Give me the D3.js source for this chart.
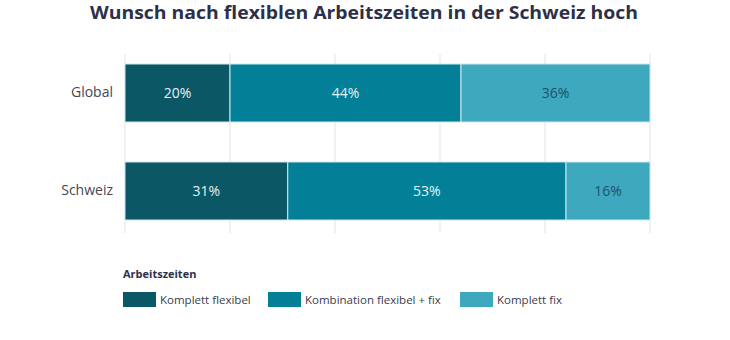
<!DOCTYPE html>
<html>
<head>
<meta charset="utf-8">
<script src="https://cdn.jsdelivr.net/npm/d3@7"></script>
<style>
  body { margin: 0; background: #fff; }
  text { font-family: "Open Sans", "Noto Sans", sans-serif; }
</style>
</head>
<body>
<div id="chart"></div>
<script>
// categories, series and ticks
const regions = ["Global", "Schweiz"];
const seriesNames = ["Komplett flexibel", "Kombination flexibel + fix", "Komplett fix"];
const flexibel = [20, 31];
const kombination = [44, 53];
const fix = [36, 16];
const ticks = [0, 20, 40, 60, 80, 100];
const colors = ["#0b5766", "#037f97", "#3ea8be"];
const labelColors = ["#e6f2f4", "#e6f2f4", "#1f5266"];

const width = 730, height = 340,
    margin = { top: 54, left: 125, right: 80 };

const svg = d3.select("#chart").append("svg")
    .attr("width", width).attr("height", height);

svg.append("text")
    .attr("x", 90).attr("y", 19)
    .attr("textLength", 548).attr("lengthAdjust", "spacingAndGlyphs")
    .attr("font-size", 17.5).attr("font-weight", 700)
    .attr("fill", "#2e3047")
    .text("Wunsch nach flexiblen Arbeitszeiten in der Schweiz hoch");

const x = d3.scaleLinear().domain([0, 100]).range([margin.left, width - margin.right]);
const y = d3.scaleBand().domain(regions).range([64, 220]).paddingInner(0.408).paddingOuter(0);

// gridlines
svg.append("g").selectAll("line").data(ticks).join("line")
    .attr("x1", d => x(d)).attr("x2", d => x(d))
    .attr("y1", 54).attr("y2", 233)
    .attr("stroke", "#e3e3e3").attr("stroke-width", 1);

// build the stacked table
const rows = regions.map((r, i) => ({ region: r, a: flexibel[i], b: kombination[i], c: fix[i] }));
const stack = d3.stack().keys(["a", "b", "c"])(rows);

const layer = svg.append("g").selectAll("g").data(stack).join("g")
    .attr("fill", (d, i) => colors[i]);

layer.selectAll("rect").data(d => d).join("rect")
    .attr("x", d => x(d[0]))
    .attr("y", d => y(d.data.region))
    .attr("width", d => x(d[1]) - x(d[0]))
    .attr("height", y.bandwidth())
    .attr("stroke", "#cfe9ef").attr("stroke-width", 1);

layer.each(function (s, i) {
  d3.select(this).selectAll("text").data(s).join("text")
      .attr("x", d => (x(d[0]) + x(d[1])) / 2)
      .attr("y", d => y(d.data.region) + y.bandwidth() / 2)
      .attr("dy", "0.35em")
      .attr("text-anchor", "middle")
      .attr("font-size", 14)
      .attr("fill", labelColors[i])
      .text(d => (d[1] - d[0]) + "%");
});

// category axis
const yAxis = svg.append("g")
    .attr("transform", `translate(${margin.left - 12},0)`)
    .call(d3.axisLeft(y).tickSize(0).tickPadding(0));
yAxis.select(".domain").remove();
yAxis.selectAll("text").attr("font-size", 14).attr("fill", "#454754")
    .style("font-family", "'Open Sans', sans-serif");

// legend
const legend = svg.append("g");
legend.append("text")
    .attr("x", 123).attr("y", 278)
    .attr("font-size", 11).attr("font-weight", 700).attr("fill", "#2e3047")
    .text("Arbeitszeiten");

const legendX = [123, 268, 460];
const item = legend.selectAll("g.item").data(seriesNames).join("g")
    .attr("class", "item")
    .attr("transform", (d, i) => `translate(${legendX[i]},292)`);
item.append("rect")
    .attr("width", 33).attr("height", 15)
    .attr("fill", (d, i) => colors[i]);
item.append("text")
    .attr("x", 37).attr("y", 7.5).attr("dy", "0.35em")
    .attr("font-size", 11.5).attr("fill", "#3a3c4a")
    .text(d => d);
</script>
</body>
</html>
